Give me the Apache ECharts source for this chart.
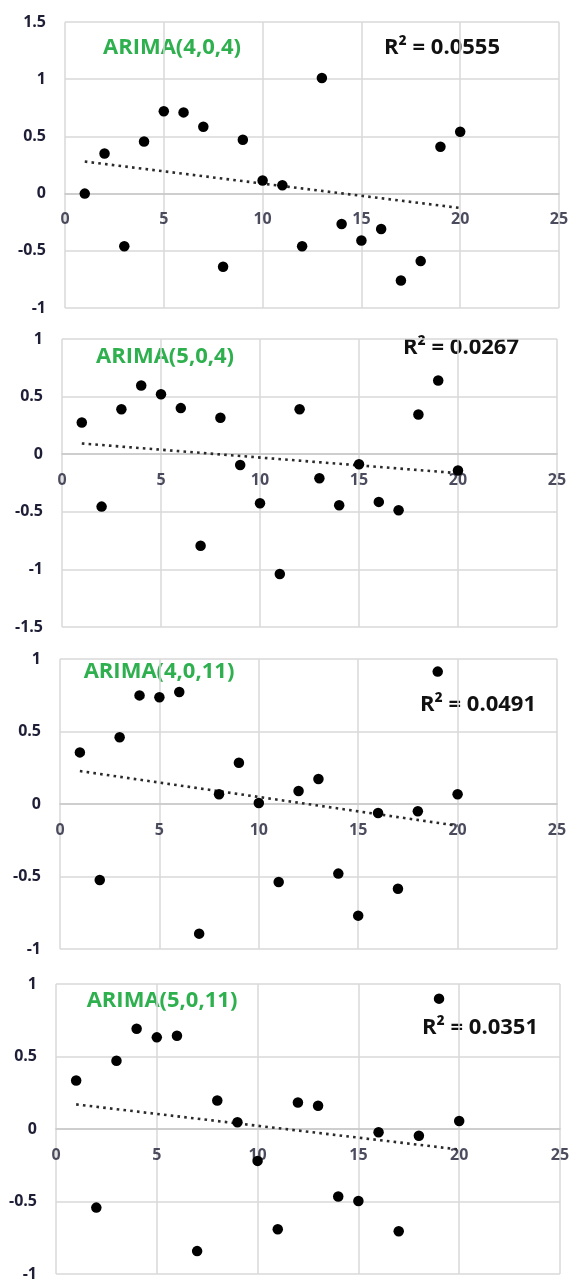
<!DOCTYPE html>
<html><head><meta charset="utf-8">
<script src="https://cdn.jsdelivr.net/npm/echarts@6/dist/echarts.min.js"></script>
<style>html,body{margin:0;padding:0;background:#fff}#c{width:576px;height:1282px}</style>
</head><body><div id="c"></div>
<script>
// ---- data ----
const xValues = [1,2,3,4,5,6,7,8,9,10,11,12,13,14,15,16,17,18,19,20];
const yArima404  = [0, 0.35, -0.46, 0.456, 0.72, 0.71, 0.585, -0.64, 0.47, 0.114, 0.073, -0.46, 1.01, -0.266, -0.41, -0.31, -0.76, -0.59, 0.41, 0.54];
const yArima504  = [0.275, -0.455, 0.39, 0.597, 0.52, 0.40, -0.794, 0.316, -0.093, -0.426, -1.04, 0.39, -0.209, -0.443, -0.087, -0.414, -0.487, 0.345, 0.64, -0.142];
const yArima4011 = [0.356, -0.524, 0.46, 0.749, 0.736, 0.772, -0.894, 0.067, 0.285, 0.007, -0.538, 0.09, 0.172, -0.48, -0.77, -0.062, -0.584, -0.05, 0.913, 0.067];
const yArima5011 = [0.334, -0.542, 0.471, 0.691, 0.632, 0.643, -0.842, 0.197, 0.046, -0.22, -0.691, 0.183, 0.16, -0.465, -0.497, -0.023, -0.705, -0.046, 0.899, 0.055];
const modelNames = ['ARIMA(4,0,4)', 'ARIMA(5,0,4)', 'ARIMA(4,0,11)', 'ARIMA(5,0,11)'];
const r2Labels   = ['R\u00B2 = 0.0555', 'R\u00B2 = 0.0267', 'R\u00B2 = 0.0491', 'R\u00B2 = 0.0351'];
const xTickLabels = [0, 5, 10, 15, 20, 25];
const yMins = [-1, -1.5, -1, -1];
const yMaxs = [1.5, 1, 1, 1];
const yInterval = 0.5;
const xMin = 0, xMax = 25, xInterval = 5;

const seriesY = [yArima404, yArima504, yArima4011, yArima5011];

// ---- layout (pixels) ----
const grids = [
  {left: 65, top: 22,  width: 494, height: 286},
  {left: 62, top: 339, width: 495, height: 288},
  {left: 60, top: 659, width: 497, height: 290},
  {left: 56, top: 984, width: 504, height: 291}
];
const namePos = [[172, 48], [165, 357], [159, 672], [162, 1001]];
const r2Pos   = [[442, 48], [461, 348], [478, 705], [480, 1028]];

function fit(xs, ys) {
  const n = xs.length;
  const mx = xs.reduce((a, b) => a + b, 0) / n;
  const my = ys.reduce((a, b) => a + b, 0) / n;
  let sxy = 0, sxx = 0;
  for (let i = 0; i < n; i++) { sxy += (xs[i] - mx) * (ys[i] - my); sxx += (xs[i] - mx) ** 2; }
  const b = sxy / sxx, a = my - b * mx;
  return x => a + b * x;
}

const labelFont = {fontFamily: 'Open Sans', fontWeight: 'bold', fontSize: 16, color: '#1e1e36', lineHeight: 16};
const gridColor = '#d9d9d9';

const option = {
  backgroundColor: '#ffffff',
  animation: false,
  grid: grids.map(g => Object.assign({containLabel: false}, g)),
  xAxis: grids.map((g, i) => ({
    type: 'value', gridIndex: i, min: xMin, max: xMax, interval: xInterval,
    axisLine: {show: true, onZero: true, lineStyle: {color: '#c8c8c8', width: 1.5}},
    axisTick: {show: false},
    axisLabel: {show: false},
    splitLine: {show: true, showMinLine: true, showMaxLine: true, lineStyle: {color: gridColor, width: 1.5}}
  })),
  yAxis: grids.map((g, i) => ({
    type: 'value', gridIndex: i, min: yMins[i], max: yMaxs[i], interval: yInterval,
    axisLine: {show: false, onZero: false},
    axisTick: {show: false},
    axisLabel: Object.assign({margin: 19}, labelFont),
    splitLine: {show: true, showMinLine: true, showMaxLine: true, lineStyle: {color: gridColor, width: 1.5}}
  })),
  series: [],
  graphic: []
};

seriesY.forEach((ys, i) => {
  const f = fit(xValues, ys);
  const x0 = xValues[0], x1 = xValues[xValues.length - 1];
  // x tick labels sitting on the zero line (Excel style)
  option.series.push({
    type: 'scatter', xAxisIndex: i, yAxisIndex: i, silent: true, clip: false,
    data: xTickLabels.map(t => [t, 0]),
    symbolSize: 0, z: 1,
    label: Object.assign({show: true, position: 'bottom', distance: 18,
      formatter: p => String(p.value[0])}, labelFont)
  });
  option.series.push({
    type: 'line', xAxisIndex: i, yAxisIndex: i,
    data: [[x0, f(x0)], [x1, f(x1)]],
    showSymbol: false, symbol: 'none', silent: true, z: 3,
    lineStyle: {color: '#2a2a2a', width: 2.6, type: [2.6, 4.2], cap: 'butt'}
  });
  option.series.push({
    type: 'scatter', xAxisIndex: i, yAxisIndex: i,
    data: xValues.map((x, k) => [x, ys[k]]),
    symbol: 'circle', symbolSize: 10.5, z: 4,
    itemStyle: {color: '#000000', opacity: 1}
  });
  option.graphic.push({
    type: 'text', x: namePos[i][0], y: namePos[i][1],
    style: {text: modelNames[i], fill: '#2fb04f', font: 'bold 22px "Open Sans"', align: 'center', verticalAlign: 'middle'}
  });
  option.graphic.push({
    type: 'text', x: r2Pos[i][0], y: r2Pos[i][1],
    style: {text: r2Labels[i], fill: '#111111', font: 'bold 22px "Open Sans"', align: 'center', verticalAlign: 'middle'}
  });
});

const chart = echarts.init(document.getElementById('c'), null, {renderer: 'canvas'});
chart.setOption(option);
</script>
</body></html>
